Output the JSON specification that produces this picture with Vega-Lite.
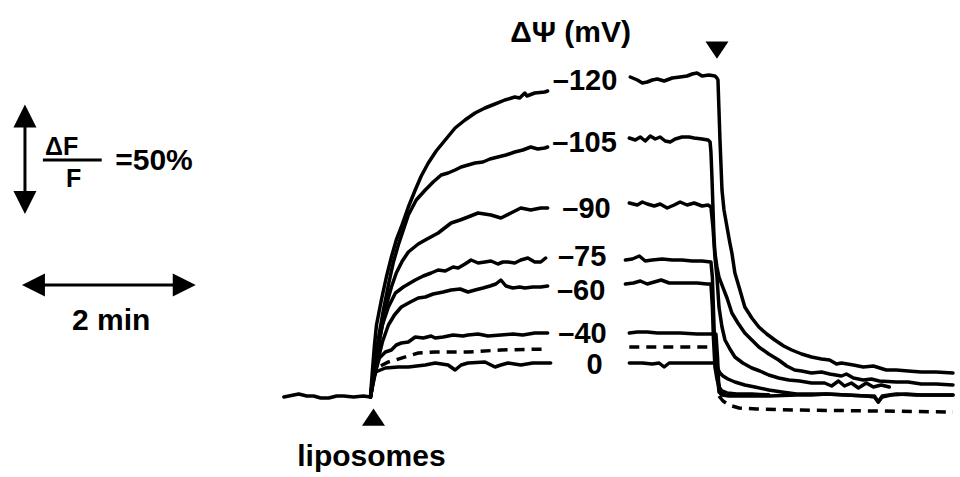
{
  "$schema": "https://vega.github.io/schema/vega-lite/v6.json",
  "width": 960,
  "height": 477,
  "autosize": {"type": "fit", "contains": "padding"},
  "padding": 0,
  "background": "white",
  "config": {"view": {"stroke": null}},
  "datasets": {
    "traces": [
      {"v":"base","s":"a","t":-60.4,"f":0},{"v":"base","s":"a","t":-56.9,"f":0.5},{"v":"base","s":"a","t":-50.0,"f":1.5},{"v":"base","s":"a","t":-44.4,"f":0.5},{"v":"base","s":"a","t":-39.6,"f":0.5},{"v":"base","s":"a","t":-34.7,"f":-0.5},{"v":"base","s":"a","t":-29.1,"f":-0.5},{"v":"base","s":"a","t":-23.6,"f":0.5},{"v":"base","s":"a","t":-18.7,"f":0.5},{"v":"base","s":"a","t":-11.8,"f":0},{"v":"base","s":"a","t":-4.9,"f":0.5},{"v":"base","s":"a","t":0,"f":0},

      {"v":"-120","s":"a","t":0,"f":0},{"v":"-120","s":"a","t":1.4,"f":13.5},{"v":"-120","s":"a","t":2.8,"f":26},{"v":"-120","s":"a","t":4.2,"f":36},{"v":"-120","s":"a","t":7.6,"f":48.5},{"v":"-120","s":"a","t":11.1,"f":60},{"v":"-120","s":"a","t":14.6,"f":70},{"v":"-120","s":"a","t":18.0,"f":78.5},{"v":"-120","s":"a","t":21.5,"f":85},{"v":"-120","s":"a","t":26.4,"f":95},{"v":"-120","s":"a","t":31.2,"f":103.5},{"v":"-120","s":"a","t":35.4,"f":110.5},{"v":"-120","s":"a","t":40.3,"f":117},{"v":"-120","s":"a","t":45.8,"f":123},{"v":"-120","s":"a","t":52.1,"f":128.5},{"v":"-120","s":"a","t":59.0,"f":134.5},{"v":"-120","s":"a","t":65.9,"f":138.5},{"v":"-120","s":"a","t":72.9,"f":142},{"v":"-120","s":"a","t":79.8,"f":144.5},{"v":"-120","s":"a","t":86.8,"f":146.5},{"v":"-120","s":"a","t":93.7,"f":148.5},{"v":"-120","s":"a","t":100.6,"f":150},{"v":"-120","s":"a","t":104.0,"f":149.5},{"v":"-120","s":"a","t":107.6,"f":152},{"v":"-120","s":"a","t":109.0,"f":150.5},{"v":"-120","s":"a","t":114.5,"f":152},{"v":"-120","s":"a","t":121.5,"f":152.5},{"v":"-120","s":"a","t":123.5,"f":153},

      {"v":"-120","s":"b","t":181.1,"f":160},{"v":"-120","s":"b","t":186.0,"f":158.5},{"v":"-120","s":"b","t":189.5,"f":157},{"v":"-120","s":"b","t":192.9,"f":157.5},{"v":"-120","s":"b","t":196.4,"f":158.5},{"v":"-120","s":"b","t":199.9,"f":159},{"v":"-120","s":"b","t":204.7,"f":158},{"v":"-120","s":"b","t":210.3,"f":159.5},{"v":"-120","s":"b","t":215.8,"f":160},{"v":"-120","s":"b","t":220.7,"f":160.5},{"v":"-120","s":"b","t":224.2,"f":161.5},{"v":"-120","s":"b","t":227.6,"f":162},{"v":"-120","s":"b","t":231.1,"f":160.5},{"v":"-120","s":"b","t":236.0,"f":161},{"v":"-120","s":"b","t":240.1,"f":160.5},{"v":"-120","s":"b","t":241.5,"f":159.5},{"v":"-120","s":"b","t":242.2,"f":158.5},{"v":"-120","s":"b","t":242.9,"f":143.5},{"v":"-120","s":"b","t":243.6,"f":128.5},{"v":"-120","s":"b","t":244.3,"f":116},{"v":"-120","s":"b","t":245.0,"f":103.5},{"v":"-120","s":"b","t":246.4,"f":93.5},{"v":"-120","s":"b","t":248.5,"f":85},{"v":"-120","s":"b","t":250.5,"f":77},{"v":"-120","s":"b","t":251.9,"f":72},{"v":"-120","s":"b","t":254.0,"f":62},{"v":"-120","s":"b","t":257.5,"f":53.5},{"v":"-120","s":"b","t":260.9,"f":45},{"v":"-120","s":"b","t":265.8,"f":39.5},{"v":"-120","s":"b","t":270.7,"f":35},{"v":"-120","s":"b","t":276.2,"f":31.5},{"v":"-120","s":"b","t":281.8,"f":28.5},{"v":"-120","s":"b","t":288.0,"f":25.5},{"v":"-120","s":"b","t":293.6,"f":23.5},{"v":"-120","s":"b","t":300.5,"f":21.5},{"v":"-120","s":"b","t":307.4,"f":20},{"v":"-120","s":"b","t":314.4,"f":19},{"v":"-120","s":"b","t":320.0,"f":18.5},{"v":"-120","s":"b","t":324.8,"f":16.5},{"v":"-120","s":"b","t":328.3,"f":17},{"v":"-120","s":"b","t":336.6,"f":16},{"v":"-120","s":"b","t":343.5,"f":15},{"v":"-120","s":"b","t":350.5,"f":15.5},{"v":"-120","s":"b","t":359.5,"f":13.5},{"v":"-120","s":"b","t":366.4,"f":13.5},{"v":"-120","s":"b","t":374.8,"f":13},{"v":"-120","s":"b","t":383.8,"f":12.5},{"v":"-120","s":"b","t":394.2,"f":12.5},{"v":"-120","s":"b","t":406.0,"f":12},

      {"v":"-105","s":"a","t":0,"f":0},{"v":"-105","s":"a","t":2.1,"f":12.5},{"v":"-105","s":"a","t":4.2,"f":23.5},{"v":"-105","s":"a","t":5.6,"f":29.5},{"v":"-105","s":"a","t":9.0,"f":43.5},{"v":"-105","s":"a","t":12.5,"f":56},{"v":"-105","s":"a","t":16.0,"f":67.5},{"v":"-105","s":"a","t":19.4,"f":76},{"v":"-105","s":"a","t":22.9,"f":83.5},{"v":"-105","s":"a","t":26.4,"f":91},{"v":"-105","s":"a","t":31.9,"f":98.5},{"v":"-105","s":"a","t":38.2,"f":103.5},{"v":"-105","s":"a","t":43.7,"f":107.5},{"v":"-105","s":"a","t":49.3,"f":111},{"v":"-105","s":"a","t":54.1,"f":112},{"v":"-105","s":"a","t":59.0,"f":113.5},{"v":"-105","s":"a","t":63.2,"f":115},{"v":"-105","s":"a","t":68.0,"f":116},{"v":"-105","s":"a","t":72.9,"f":117},{"v":"-105","s":"a","t":78.4,"f":117.5},{"v":"-105","s":"a","t":83.3,"f":119},{"v":"-105","s":"a","t":88.8,"f":120},{"v":"-105","s":"a","t":94.4,"f":121},{"v":"-105","s":"a","t":100.6,"f":122.5},{"v":"-105","s":"a","t":106.2,"f":123.5},{"v":"-105","s":"a","t":111.7,"f":125},{"v":"-105","s":"a","t":116.6,"f":124},{"v":"-105","s":"a","t":121.5,"f":124.5},{"v":"-105","s":"a","t":123.5,"f":125},

      {"v":"-105","s":"b","t":180.4,"f":129.5},{"v":"-105","s":"b","t":184.6,"f":128.5},{"v":"-105","s":"b","t":188.1,"f":130},{"v":"-105","s":"b","t":191.5,"f":128},{"v":"-105","s":"b","t":195.0,"f":130.5},{"v":"-105","s":"b","t":198.5,"f":129},{"v":"-105","s":"b","t":201.9,"f":130},{"v":"-105","s":"b","t":205.4,"f":128},{"v":"-105","s":"b","t":208.9,"f":127.5},{"v":"-105","s":"b","t":212.4,"f":129},{"v":"-105","s":"b","t":217.2,"f":130},{"v":"-105","s":"b","t":222.1,"f":130},{"v":"-105","s":"b","t":225.6,"f":129.5},{"v":"-105","s":"b","t":231.1,"f":129},{"v":"-105","s":"b","t":235.3,"f":128.5},{"v":"-105","s":"b","t":236.7,"f":127.5},{"v":"-105","s":"b","t":237.3,"f":122.5},{"v":"-105","s":"b","t":238.0,"f":110},{"v":"-105","s":"b","t":238.7,"f":95},{"v":"-105","s":"b","t":239.4,"f":80},{"v":"-105","s":"b","t":240.1,"f":72},{"v":"-105","s":"b","t":241.5,"f":65},{"v":"-105","s":"b","t":242.9,"f":60},{"v":"-105","s":"b","t":245.0,"f":56},{"v":"-105","s":"b","t":248.5,"f":49.5},{"v":"-105","s":"b","t":251.9,"f":42},{"v":"-105","s":"b","t":256.1,"f":37},{"v":"-105","s":"b","t":260.9,"f":32},{"v":"-105","s":"b","t":265.8,"f":28.5},{"v":"-105","s":"b","t":270.7,"f":25},{"v":"-105","s":"b","t":277.6,"f":21.5},{"v":"-105","s":"b","t":284.5,"f":18.5},{"v":"-105","s":"b","t":290.1,"f":15.5},{"v":"-105","s":"b","t":295.6,"f":13.5},{"v":"-105","s":"b","t":300.5,"f":13},{"v":"-105","s":"b","t":307.4,"f":12},{"v":"-105","s":"b","t":314.4,"f":12.5},{"v":"-105","s":"b","t":320.0,"f":11.5},{"v":"-105","s":"b","t":328.3,"f":10.5},{"v":"-105","s":"b","t":331.7,"f":11.5},{"v":"-105","s":"b","t":336.6,"f":9.5},{"v":"-105","s":"b","t":343.5,"f":8.5},{"v":"-105","s":"b","t":349.1,"f":9},{"v":"-105","s":"b","t":354.6,"f":8},{"v":"-105","s":"b","t":366.4,"f":7.5},{"v":"-105","s":"b","t":374.8,"f":7.5},{"v":"-105","s":"b","t":383.8,"f":6.5},{"v":"-105","s":"b","t":394.2,"f":6.5},{"v":"-105","s":"b","t":406.0,"f":6},

      {"v":"-90","s":"a","t":0,"f":0},{"v":"-90","s":"a","t":1.4,"f":6},{"v":"-90","s":"a","t":3.5,"f":16},{"v":"-90","s":"a","t":5.6,"f":26},{"v":"-90","s":"a","t":8.3,"f":36},{"v":"-90","s":"a","t":11.1,"f":46},{"v":"-90","s":"a","t":14.6,"f":55},{"v":"-90","s":"a","t":18.0,"f":62},{"v":"-90","s":"a","t":22.2,"f":68},{"v":"-90","s":"a","t":26.4,"f":72.5},{"v":"-90","s":"a","t":33.3,"f":76.5},{"v":"-90","s":"a","t":38.2,"f":78.5},{"v":"-90","s":"a","t":47.2,"f":82},{"v":"-90","s":"a","t":56.2,"f":87},{"v":"-90","s":"a","t":62.5,"f":88.5},{"v":"-90","s":"a","t":68.0,"f":90},{"v":"-90","s":"a","t":75.0,"f":92},{"v":"-90","s":"a","t":84.0,"f":91},{"v":"-90","s":"a","t":90.9,"f":89.5},{"v":"-90","s":"a","t":97.9,"f":92},{"v":"-90","s":"a","t":104.8,"f":94.5},{"v":"-90","s":"a","t":111.7,"f":93.5},{"v":"-90","s":"a","t":118.7,"f":94.5},{"v":"-90","s":"a","t":123.5,"f":94.5},

      {"v":"-90","s":"b","t":180.4,"f":97},{"v":"-90","s":"b","t":186.0,"f":96},{"v":"-90","s":"b","t":189.5,"f":97.5},{"v":"-90","s":"b","t":192.9,"f":96.5},{"v":"-90","s":"b","t":197.8,"f":95.5},{"v":"-90","s":"b","t":201.9,"f":96.5},{"v":"-90","s":"b","t":206.8,"f":94.5},{"v":"-90","s":"b","t":211.7,"f":96},{"v":"-90","s":"b","t":215.8,"f":97.5},{"v":"-90","s":"b","t":220.7,"f":96},{"v":"-90","s":"b","t":225.6,"f":97},{"v":"-90","s":"b","t":231.1,"f":95.5},{"v":"-90","s":"b","t":235.3,"f":96},{"v":"-90","s":"b","t":237.3,"f":95},{"v":"-90","s":"b","t":238.7,"f":85},{"v":"-90","s":"b","t":240.1,"f":70},{"v":"-90","s":"b","t":241.5,"f":60},{"v":"-90","s":"b","t":242.2,"f":52.5},{"v":"-90","s":"b","t":242.9,"f":45},{"v":"-90","s":"b","t":245.0,"f":35},{"v":"-90","s":"b","t":247.1,"f":28.5},{"v":"-90","s":"b","t":250.5,"f":24},{"v":"-90","s":"b","t":254.0,"f":20},{"v":"-90","s":"b","t":259.5,"f":17},{"v":"-90","s":"b","t":265.8,"f":14.5},{"v":"-90","s":"b","t":271.4,"f":13},{"v":"-90","s":"b","t":277.6,"f":11},{"v":"-90","s":"b","t":284.5,"f":9.5},{"v":"-90","s":"b","t":291.5,"f":8.5},{"v":"-90","s":"b","t":299.1,"f":8},{"v":"-90","s":"b","t":307.4,"f":7},{"v":"-90","s":"b","t":316.5,"f":7},{"v":"-90","s":"b","t":321.4,"f":5.5},{"v":"-90","s":"b","t":326.2,"f":8},{"v":"-90","s":"b","t":330.4,"f":5.5},{"v":"-90","s":"b","t":335.2,"f":7},{"v":"-90","s":"b","t":340.1,"f":4.5},{"v":"-90","s":"b","t":345.6,"f":7},{"v":"-90","s":"b","t":350.5,"f":5},{"v":"-90","s":"b","t":356.0,"f":6},{"v":"-90","s":"b","t":361.6,"f":5},

      {"v":"-75","s":"a","t":0,"f":0},{"v":"-75","s":"a","t":2.1,"f":11},{"v":"-75","s":"a","t":4.9,"f":23.5},{"v":"-75","s":"a","t":8.3,"f":36},{"v":"-75","s":"a","t":12.5,"f":45},{"v":"-75","s":"a","t":17.4,"f":52},{"v":"-75","s":"a","t":22.9,"f":55},{"v":"-75","s":"a","t":31.2,"f":58.5},{"v":"-75","s":"a","t":36.8,"f":60.5},{"v":"-75","s":"a","t":42.3,"f":62},{"v":"-75","s":"a","t":47.2,"f":63.5},{"v":"-75","s":"a","t":52.1,"f":63},{"v":"-75","s":"a","t":57.6,"f":65},{"v":"-75","s":"a","t":61.1,"f":64.5},{"v":"-75","s":"a","t":65.9,"f":66.5},{"v":"-75","s":"a","t":70.1,"f":68.5},{"v":"-75","s":"a","t":75.0,"f":67},{"v":"-75","s":"a","t":79.8,"f":67.5},{"v":"-75","s":"a","t":84.0,"f":68},{"v":"-75","s":"a","t":88.8,"f":66.5},{"v":"-75","s":"a","t":92.3,"f":67.5},{"v":"-75","s":"a","t":95.8,"f":67.5},{"v":"-75","s":"a","t":100.6,"f":67},{"v":"-75","s":"a","t":104.8,"f":68.5},{"v":"-75","s":"a","t":109.7,"f":69.5},{"v":"-75","s":"a","t":114.5,"f":67.5},{"v":"-75","s":"a","t":118.7,"f":67.5},{"v":"-75","s":"a","t":122.1,"f":69.5},

      {"v":"-75","s":"b","t":177.7,"f":68.5},{"v":"-75","s":"b","t":182.5,"f":69},{"v":"-75","s":"b","t":187.4,"f":70.5},{"v":"-75","s":"b","t":191.5,"f":68},{"v":"-75","s":"b","t":196.4,"f":68.5},{"v":"-75","s":"b","t":203.3,"f":69},{"v":"-75","s":"b","t":210.3,"f":68.5},{"v":"-75","s":"b","t":217.2,"f":68.5},{"v":"-75","s":"b","t":224.2,"f":68},{"v":"-75","s":"b","t":231.1,"f":68},{"v":"-75","s":"b","t":237.3,"f":67.5},{"v":"-75","s":"b","t":238.3,"f":60},{"v":"-75","s":"b","t":239.0,"f":45},{"v":"-75","s":"b","t":239.7,"f":30},{"v":"-75","s":"b","t":240.8,"f":19},{"v":"-75","s":"b","t":242.2,"f":14},{"v":"-75","s":"b","t":243.6,"f":12},{"v":"-75","s":"b","t":245.7,"f":10.5},{"v":"-75","s":"b","t":249.1,"f":9},{"v":"-75","s":"b","t":254.0,"f":7.5},{"v":"-75","s":"b","t":260.9,"f":6},{"v":"-75","s":"b","t":267.9,"f":5},{"v":"-75","s":"b","t":277.6,"f":3.5},{"v":"-75","s":"b","t":286.6,"f":2.5},{"v":"-75","s":"b","t":297.0,"f":1.5},{"v":"-75","s":"b","t":307.4,"f":1.5},{"v":"-75","s":"b","t":317.9,"f":1.5},{"v":"-75","s":"b","t":331.7,"f":1},{"v":"-75","s":"b","t":345.6,"f":0.5},{"v":"-75","s":"b","t":351.2,"f":0.5},{"v":"-75","s":"b","t":353.9,"f":-2.5},{"v":"-75","s":"b","t":356.7,"f":0.5},{"v":"-75","s":"b","t":366.4,"f":1.5},{"v":"-75","s":"b","t":380.3,"f":1},{"v":"-75","s":"b","t":394.2,"f":1},{"v":"-75","s":"b","t":406.0,"f":1},

      {"v":"-60","s":"a","t":0,"f":0},{"v":"-60","s":"a","t":2.1,"f":7.5},{"v":"-60","s":"a","t":4.9,"f":17.5},{"v":"-60","s":"a","t":8.3,"f":27.5},{"v":"-60","s":"a","t":12.5,"f":36},{"v":"-60","s":"a","t":16.7,"f":41},{"v":"-60","s":"a","t":21.5,"f":45},{"v":"-60","s":"a","t":27.8,"f":47.5},{"v":"-60","s":"a","t":33.3,"f":49.5},{"v":"-60","s":"a","t":38.2,"f":50},{"v":"-60","s":"a","t":43.7,"f":51.5},{"v":"-60","s":"a","t":50.7,"f":52.5},{"v":"-60","s":"a","t":56.2,"f":53.5},{"v":"-60","s":"a","t":62.5,"f":54},{"v":"-60","s":"a","t":68.0,"f":52.5},{"v":"-60","s":"a","t":72.9,"f":53.5},{"v":"-60","s":"a","t":78.4,"f":54.5},{"v":"-60","s":"a","t":83.3,"f":55.5},{"v":"-60","s":"a","t":87.4,"f":56.5},{"v":"-60","s":"a","t":90.9,"f":58.5},{"v":"-60","s":"a","t":94.4,"f":55.5},{"v":"-60","s":"a","t":99.2,"f":54.5},{"v":"-60","s":"a","t":104.1,"f":55},{"v":"-60","s":"a","t":107.6,"f":54.5},{"v":"-60","s":"a","t":113.1,"f":55},{"v":"-60","s":"a","t":118.7,"f":55},{"v":"-60","s":"a","t":123.5,"f":55.5},

      {"v":"-60","s":"b","t":177.7,"f":56.5},{"v":"-60","s":"b","t":183.2,"f":57},{"v":"-60","s":"b","t":188.1,"f":58},{"v":"-60","s":"b","t":192.9,"f":56.5},{"v":"-60","s":"b","t":197.8,"f":57.5},{"v":"-60","s":"b","t":202.6,"f":58.5},{"v":"-60","s":"b","t":208.2,"f":57},{"v":"-60","s":"b","t":213.8,"f":57},{"v":"-60","s":"b","t":220.7,"f":57},{"v":"-60","s":"b","t":227.6,"f":57},{"v":"-60","s":"b","t":234.5,"f":56.5},{"v":"-60","s":"b","t":237.3,"f":56.5},{"v":"-60","s":"b","t":238.3,"f":45},{"v":"-60","s":"b","t":239.0,"f":30},{"v":"-60","s":"b","t":240.1,"f":15},{"v":"-60","s":"b","t":241.5,"f":9},{"v":"-60","s":"b","t":242.9,"f":5},{"v":"-60","s":"b","t":245.0,"f":3},{"v":"-60","s":"b","t":248.5,"f":2},{"v":"-60","s":"b","t":255.4,"f":1.5},{"v":"-60","s":"b","t":265.8,"f":1.5},{"v":"-60","s":"b","t":277.6,"f":1},

      {"v":"-40","s":"a","t":0,"f":0},{"v":"-40","s":"a","t":2.1,"f":8.5},{"v":"-40","s":"a","t":4.2,"f":14.5},{"v":"-40","s":"a","t":6.2,"f":19.5},{"v":"-40","s":"a","t":10.4,"f":22.5},{"v":"-40","s":"a","t":14.6,"f":23.5},{"v":"-40","s":"a","t":18.0,"f":26},{"v":"-40","s":"a","t":21.5,"f":27},{"v":"-40","s":"a","t":26.4,"f":27.5},{"v":"-40","s":"a","t":31.2,"f":30},{"v":"-40","s":"a","t":36.8,"f":29.5},{"v":"-40","s":"a","t":42.3,"f":30.5},{"v":"-40","s":"a","t":45.1,"f":29.5},{"v":"-40","s":"a","t":50.7,"f":30},{"v":"-40","s":"a","t":57.6,"f":31},{"v":"-40","s":"a","t":64.5,"f":30.5},{"v":"-40","s":"a","t":68.0,"f":31},{"v":"-40","s":"a","t":75.0,"f":31.5},{"v":"-40","s":"a","t":81.9,"f":30.5},{"v":"-40","s":"a","t":90.9,"f":31},{"v":"-40","s":"a","t":99.2,"f":31.5},{"v":"-40","s":"a","t":106.2,"f":31},{"v":"-40","s":"a","t":114.5,"f":32},{"v":"-40","s":"a","t":123.5,"f":32},

      {"v":"-40","s":"b","t":180.4,"f":32},{"v":"-40","s":"b","t":186.0,"f":32.5},{"v":"-40","s":"b","t":192.9,"f":32.5},{"v":"-40","s":"b","t":199.9,"f":32},{"v":"-40","s":"b","t":206.8,"f":32},{"v":"-40","s":"b","t":215.8,"f":32},{"v":"-40","s":"b","t":227.6,"f":31.5},{"v":"-40","s":"b","t":236.0,"f":31.5},{"v":"-40","s":"b","t":240.8,"f":31.5},{"v":"-40","s":"b","t":241.9,"f":20},{"v":"-40","s":"b","t":242.6,"f":8},{"v":"-40","s":"b","t":243.6,"f":3},{"v":"-40","s":"b","t":245.7,"f":1.5},{"v":"-40","s":"b","t":249.8,"f":1},{"v":"-40","s":"b","t":277.6,"f":1},

      {"v":"dashed","s":"a","t":0,"f":0},{"v":"dashed","s":"a","t":2.8,"f":11},{"v":"dashed","s":"a","t":5.6,"f":15},{"v":"dashed","s":"a","t":12.5,"f":17.5},{"v":"dashed","s":"a","t":17.4,"f":18.5},{"v":"dashed","s":"a","t":26.4,"f":20.5},{"v":"dashed","s":"a","t":33.3,"f":22},{"v":"dashed","s":"a","t":45.1,"f":22.5},{"v":"dashed","s":"a","t":68.0,"f":22.5},{"v":"dashed","s":"a","t":90.9,"f":23.5},{"v":"dashed","s":"a","t":123.5,"f":24},
      {"v":"dashed","s":"b","t":180.4,"f":25},{"v":"dashed","s":"b","t":241.5,"f":25},
      {"v":"dashed","s":"c","t":242.9,"f":0.5},{"v":"dashed","s":"c","t":245.7,"f":-2},{"v":"dashed","s":"c","t":249.8,"f":-4},{"v":"dashed","s":"c","t":256.8,"f":-5.5},{"v":"dashed","s":"c","t":269.3,"f":-6},{"v":"dashed","s":"c","t":297.0,"f":-6.5},{"v":"dashed","s":"c","t":352.6,"f":-7},{"v":"dashed","s":"c","t":406.0,"f":-7.5},

      {"v":"0","s":"a","t":0,"f":0},{"v":"0","s":"a","t":1.4,"f":8.5},{"v":"0","s":"a","t":3.5,"f":12.5},{"v":"0","s":"a","t":10.4,"f":14.5},{"v":"0","s":"a","t":19.4,"f":15},{"v":"0","s":"a","t":26.4,"f":15},{"v":"0","s":"a","t":38.2,"f":16},{"v":"0","s":"a","t":45.1,"f":17},{"v":"0","s":"a","t":54.1,"f":16},{"v":"0","s":"a","t":59.0,"f":13.5},{"v":"0","s":"a","t":63.2,"f":16},{"v":"0","s":"a","t":68.0,"f":17},{"v":"0","s":"a","t":79.8,"f":17.5},{"v":"0","s":"a","t":86.8,"f":15},{"v":"0","s":"a","t":90.9,"f":16},{"v":"0","s":"a","t":95.8,"f":17},{"v":"0","s":"a","t":104.8,"f":16},{"v":"0","s":"a","t":113.1,"f":17},{"v":"0","s":"a","t":125.6,"f":17},

      {"v":"0","s":"b","t":180.4,"f":17},{"v":"0","s":"b","t":189.5,"f":17},{"v":"0","s":"b","t":196.4,"f":16.5},{"v":"0","s":"b","t":201.2,"f":17},{"v":"0","s":"b","t":204.7,"f":15},{"v":"0","s":"b","t":208.2,"f":17},{"v":"0","s":"b","t":217.2,"f":17},{"v":"0","s":"b","t":227.6,"f":17},{"v":"0","s":"b","t":236.0,"f":17},{"v":"0","s":"b","t":241.5,"f":17},{"v":"0","s":"b","t":242.2,"f":8},{"v":"0","s":"b","t":242.9,"f":2.5},{"v":"0","s":"b","t":245.0,"f":1},{"v":"0","s":"b","t":249.8,"f":0.5},{"v":"0","s":"b","t":277.6,"f":0.5},{"v":"0","s":"b","t":297.0,"f":1},{"v":"0","s":"b","t":307.4,"f":1},{"v":"0","s":"b","t":317.9,"f":1.5},{"v":"0","s":"b","t":331.7,"f":1},{"v":"0","s":"b","t":345.6,"f":0.5},{"v":"0","s":"b","t":351.2,"f":0},{"v":"0","s":"b","t":353.9,"f":-2.5},{"v":"0","s":"b","t":356.7,"f":0},{"v":"0","s":"b","t":362.9,"f":1},{"v":"0","s":"b","t":373.4,"f":1.5},{"v":"0","s":"b","t":383.8,"f":1},{"v":"0","s":"b","t":394.2,"f":1},{"v":"0","s":"b","t":406.0,"f":1}
    ],
    "labels": [
      {"role":"title","label":"ΔΨ (mV)","t":139.5,"f":177.5},
      {"role":"mv","label":"–120","t":149.6,"f":153.5},
      {"role":"mv","label":"–105","t":149.2,"f":122.5},
      {"role":"mv","label":"–90","t":150.6,"f":89.5},
      {"role":"mv","label":"–75","t":147.5,"f":65.5},
      {"role":"mv","label":"–60","t":146.8,"f":48.5},
      {"role":"mv","label":"–40","t":147.8,"f":27},
      {"role":"mv","label":"0","t":156.2,"f":11.5},
      {"role":"title","label":"liposomes","t":0.7,"f":-34.5},
      {"role":"title","label":"2 min","t":-180.7,"f":33.5},
      {"role":"title","label":"=50%","t":-150.9,"f":113.5},
      {"role":"frac","label":"ΔF","t":-215.2,"f":121},
      {"role":"frac","label":"F","t":-206.8,"f":105}
    ],
    "bars": [
      {"part":"vertical","t":-240.8,"f":140,"t2":-240.8,"f2":98},
      {"part":"horizontal","t":-234.9,"f":56,"t2":-129.8,"f2":56},
      {"part":"fraction","t":-228.3,"f":118.5,"t2":-187.3,"f2":118.5}
    ],
    "heads": [
      {"head":"up","t":-240.8,"f":140.5},
      {"head":"down","t":-240.8,"f":97.25},
      {"head":"left","t":-234.9,"f":56},
      {"head":"right","t":-129.8,"f":56},
      {"head":"addition","t":2.1,"f":-10},
      {"head":"release","t":241.5,"f":173.5}
    ]
  },
  "encoding": {
    "x": {"field": "t", "type": "quantitative", "scale": {"domain": [-258.2, 408.1], "nice": false, "zero": false}, "axis": null},
    "y": {"field": "f", "type": "quantitative", "scale": {"domain": [-40, 198.5], "nice": false, "zero": false}, "axis": null}
  },
  "layer": [
    {
      "data": {"name": "traces"},
      "transform": [{"filter": "datum.v !== 'dashed'"}],
      "mark": {"type": "line", "color": "black", "strokeWidth": 3.5, "strokeJoin": "round", "strokeCap": "round"},
      "encoding": {"detail": [{"field": "v"}, {"field": "s"}]}
    },
    {
      "data": {"name": "traces"},
      "transform": [{"filter": "datum.v === 'dashed'"}],
      "mark": {"type": "line", "color": "black", "strokeWidth": 3.5, "strokeDash": [10, 7]},
      "encoding": {"detail": [{"field": "v"}, {"field": "s"}]}
    },
    {
      "data": {"name": "bars"},
      "mark": {"type": "rule", "color": "black", "strokeWidth": 3},
      "encoding": {"x2": {"field": "t2"}, "y2": {"field": "f2"}}
    },
    {
      "data": {"name": "heads"},
      "mark": {"type": "point", "filled": true, "color": "black", "opacity": 1, "size": 529, "strokeWidth": 0},
      "encoding": {
        "shape": {"field": "head", "type": "nominal", "legend": null,
          "scale": {"domain": ["up", "down", "left", "right", "addition", "release"],
                    "range": ["M-1,1L0,-1L1,1Z", "M-1,-1L1,-1L0,1Z", "M1,-1L1,1L-1,0Z", "M-1,-1L-1,1L1,0Z", "M-1,0.75L0,-0.75L1,0.75Z", "M-1,-0.75L1,-0.75L0,0.75Z"]}}
      }
    },
    {
      "data": {"name": "labels"},
      "transform": [{"filter": "datum.role === 'title'"}],
      "mark": {"type": "text", "font": "Liberation Sans", "fontWeight": "bold", "fontSize": 30, "color": "black", "align": "center", "baseline": "alphabetic"},
      "encoding": {"text": {"field": "label"}}
    },
    {
      "data": {"name": "labels"},
      "transform": [{"filter": "datum.role === 'mv'"}],
      "mark": {"type": "text", "font": "Liberation Sans", "fontWeight": "bold", "fontSize": 29, "color": "black", "align": "center", "baseline": "alphabetic", "letterSpacing": 1.5},
      "encoding": {"text": {"field": "label"}}
    },
    {
      "data": {"name": "labels"},
      "transform": [{"filter": "datum.role === 'frac'"}],
      "mark": {"type": "text", "font": "Liberation Sans", "fontWeight": "bold", "fontSize": 25, "color": "black", "align": "center", "baseline": "alphabetic"},
      "encoding": {"text": {"field": "label"}}
    }
  ]
}
